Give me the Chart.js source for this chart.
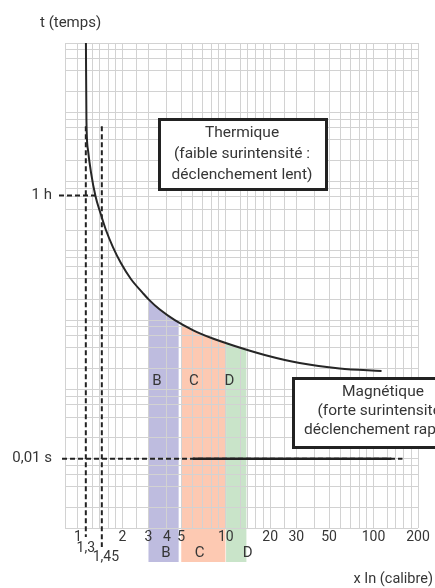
<!DOCTYPE html>
<html>
<head>
<meta charset="utf-8">
<script src="https://cdn.jsdelivr.net/npm/chart.js@4"></script>
<style>
  html, body { margin: 0; padding: 0; background: #fff; }
  canvas { display: block; }
</style>
</head>
<body>
<canvas id="chart" width="435" height="588" style="width:435px;height:588px"></canvas>
<script>
const curveX = [1.132, 1.141, 1.169, 1.224, 1.313, 1.419, 1.546, 1.724, 1.952, 2.281, 2.749, 3.018, 3.581, 4.523, 5.984, 8.17, 11.5, 18.35, 31.62, 58.93, 113.3]
const curveT = [1e7, 7.72e5, 2.85e5, 1.37e5, 6.18e4, 3.51e4, 2.0e4, 1.134e4, 6.67e3, 3.92e3, 2.46e3, 1.98e3, 1.42e3, 1.0e3, 720, 543, 423, 314, 240, 200, 184]

// quadrillage
const xGrid = [1, 1.25, 1.4, 1.6, 1.8, 2, 2.5, 3, 4, 5, 6, 7, 8, 9, 10, 12.5, 14, 16, 18, 20, 25, 30, 40, 50, 60, 70, 80, 90, 100, 125, 140, 160, 180, 200]
const xTickLabels = [1, 2, 3, 4, 5, 10, 20, 30, 50, 100, 200]
const yGrid = [1, 2, 4, 6, 8, 10, 20, 40, 60, 80, 100, 200, 400, 600, 800, 1e3, 2e3, 4e3, 6e3, 8e3,
  1e4, 2e4, 4e4, 6e4, 8e4, 1e5, 2e5, 4e5, 6e5, 8e5, 1e6, 2e6, 4e6, 6e6, 8e6, 1e7]

// courbes B, C, D (zones magnétiques)
const bandNames = ["B", "C", "D"]
const bandFrom = [3, 5, 10.05]
const bandTo = [4.8, 9.95, 13.8]
const bandColors = ["#bebcdf", "#fdc9b2", "#c9e4c9"]
const bandLetterX = [3.42, 6.08, 10.6]
const bandLetterT = 132
const bandLetterBelowX = [3.93, 6.67, 14.1]

// repères en pointillés
const xMarkValues = [1.13, 1.45]
const xMarkLabels = ["1,3", "1,45"]
const xMarkTop = 6.3e5
const xMarkBottom = [0.74, 0.53]
const tMarkValues = [6.3e4, 10]
const tMarkLabels = ["1 h", "0,01 s"]
const tMarkFrom = [0.744, 0.78]
const tMarkTo = [1.31, 157]
const magnFrom = 5.98
const magnTo = 132

const thermLines = ["Thermique", "(faible surintensité :", "déclenchement lent)"]
const magnLines = ["Magnétique", "(forte surintensité :", "déclenchement rapide)"]

const ink = "#363636"
const dark = "#222"
const font = "Roboto, 'Noto Sans', sans-serif"

function seg(x1, y1, x2, y2, dash, width) {
    return {
        data: [{x: x1, y: y1}, {x: x2, y: y2}],
        borderColor: dark,
        borderWidth: width || 2,
        borderDash: dash ? [5, 3] : [],
        pointRadius: 0,
        fill: false,
        clip: false
    }
}

const datasets = [
    {
        data: curveX.map((x, i) => ({x: x, y: curveT[i]})),
        borderColor: "#262626",
        borderWidth: 2,
        pointRadius: 0,
        cubicInterpolationMode: "monotone",
        fill: false
    }
]
xMarkValues.forEach((v, i) => datasets.push(seg(v, xMarkTop, v, xMarkBottom[i], true)))
tMarkValues.forEach((v, i) => datasets.push(seg(tMarkFrom[i], v, tMarkTo[i], v, true)))
datasets.push(seg(magnFrom, 10, magnTo, 10, false, 2.5))

function box(ctx, x, y, w, h, lines, cx, ys) {
    ctx.fillStyle = "#fff"
    ctx.fillRect(x, y, w, h)
    ctx.lineWidth = 3
    ctx.strokeStyle = dark
    ctx.strokeRect(x, y, w, h)
    ctx.fillStyle = ink
    ctx.textAlign = "center"
    ctx.textBaseline = "middle"
    lines.forEach((t, i) => ctx.fillText(t, cx, ys[i]))
}

const decor = {
    id: "decor",
    beforeDraw(chart) {
        const ctx = chart.ctx
        const a = chart.chartArea
        const x = chart.scales.x
        const line = chart.getDatasetMeta(0).dataset
        line.updateControlPoints(a, "x")
        const pts = line.points
        ctx.save()
        ctx.beginPath()
        line.path(ctx)
        ctx.lineTo(pts[pts.length - 1].x, a.bottom + 60)
        ctx.lineTo(pts[0].x, a.bottom + 60)
        ctx.closePath()
        ctx.clip()
        bandNames.forEach((n, i) => {
            const x1 = x.getPixelForValue(bandFrom[i])
            const x2 = x.getPixelForValue(bandTo[i])
            ctx.fillStyle = bandColors[i]
            ctx.fillRect(x1, a.top, x2 - x1, a.bottom + 34 - a.top)
        })
        ctx.restore()
    },
    afterDraw(chart) {
        const ctx = chart.ctx
        const a = chart.chartArea
        const x = chart.scales.x
        const y = chart.scales.y
        ctx.save()
        ctx.fillStyle = ink
        ctx.textBaseline = "middle"

        ctx.font = "15px " + font
        ctx.textAlign = "right"
        tMarkValues.forEach((v, i) => ctx.fillText(tMarkLabels[i], 52, y.getPixelForValue(v)))

        ctx.font = "14px " + font
        ctx.textAlign = "center"
        ctx.fillText(xMarkLabels[0], x.getPixelForValue(xMarkValues[0]), a.bottom + 20)
        ctx.fillText(xMarkLabels[1], x.getPixelForValue(xMarkValues[1]) + 4, a.bottom + 29)

        ctx.font = "15px " + font
        bandNames.forEach((n, i) => {
            ctx.fillText(n, x.getPixelForValue(bandLetterX[i]), y.getPixelForValue(bandLetterT))
            ctx.fillText(n, x.getPixelForValue(bandLetterBelowX[i]), a.bottom + 25)
        })

        ctx.textAlign = "left"
        ctx.fillText("t (temps)", 40, 23)
        ctx.font = "14.5px " + font
        ctx.textAlign = "right"
        ctx.fillText("x In (calibre)", 433, 579)

        ctx.font = "15.5px " + font
        box(ctx, 159.5, 119.5, 167, 70, thermLines, 242, [132.7, 154, 174.7])
        box(ctx, 293.5, 378.5, 200, 69, magnLines, 383, [392, 411, 430.5])
        ctx.restore()
    }
}

new Chart(document.getElementById("chart"), {
    type: "line",
    data: {datasets: datasets},
    options: {
        responsive: false,
        animation: false,
        events: [],
        layout: {padding: {top: 43, right: 17, left: 0, bottom: 0}},
        plugins: {legend: {display: false}, tooltip: {enabled: false}},
        scales: {
            x: {
                type: "logarithmic",
                min: 0.817,
                max: 200,
                afterBuildTicks: s => { s.ticks = xGrid.map(v => ({value: v})) },
                afterFit: s => { s.height = 60 },
                grid: {color: "#d2d2d2", lineWidth: 1, drawTicks: false},
                border: {display: false},
                ticks: {
                    autoSkip: false,
                    maxRotation: 0,
                    minRotation: 0,
                    padding: 1,
                    color: ink,
                    font: {family: font, size: 14},
                    callback: v => xTickLabels.includes(v) ? String(v) : ""
                }
            },
            y: {
                type: "logarithmic",
                min: 1,
                max: 1e7,
                afterBuildTicks: s => { s.ticks = yGrid.map(v => ({value: v})) },
                afterFit: s => { s.width = 65 },
                grid: {color: "#d2d2d2", lineWidth: 1, drawTicks: false},
                border: {display: true, color: "#d2d2d2"},
                ticks: {display: false}
            }
        }
    },
    plugins: [decor]
})
</script>
</body>
</html>
